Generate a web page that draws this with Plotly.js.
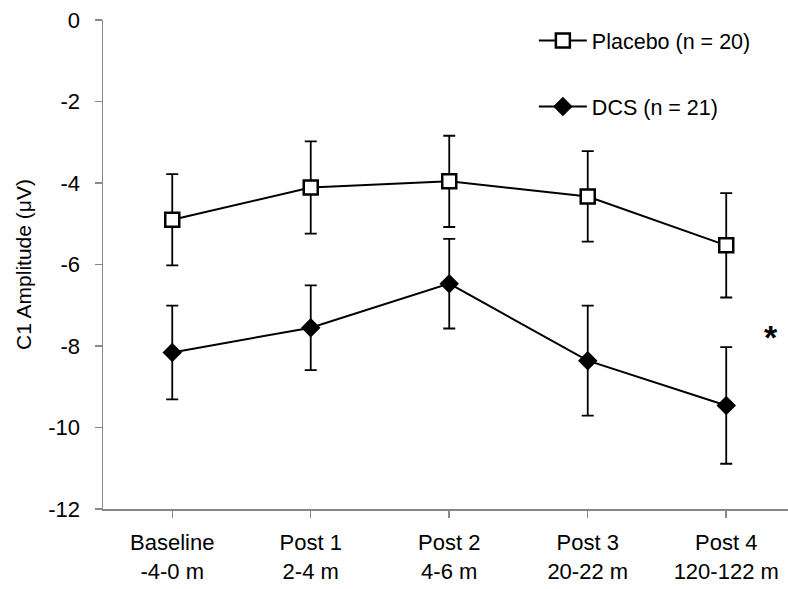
<!DOCTYPE html>
<html>
<head>
<meta charset="utf-8">
<script src="https://cdn.plot.ly/plotly-3.0.1.min.js"></script>
<style>html,body{margin:0;padding:0;background:#fff;}#chart{width:788px;height:589px;}</style>
</head>
<body>
<div id="chart"></div>
<script>
var categories = ["Baseline<br>-4-0 m", "Post 1<br>2-4 m", "Post 2<br>4-6 m", "Post 3<br>20-22 m", "Post 4<br>120-122 m"];
var placeboMean = [-4.90, -4.11, -3.96, -4.33, -5.53];
var placeboErr = [1.12, 1.13, 1.12, 1.11, 1.28];
var dcsMean = [-8.16, -7.55, -6.47, -8.36, -9.46];
var dcsErr = [1.15, 1.04, 1.10, 1.35, 1.43];
var yTicks = [0, -2, -4, -6, -8, -10, -12];
var placeboName = "Placebo (n = 20)";
var dcsName = "DCS (n = 21)";

var xIdx = categories.map(function(_, i){ return i; });
var font = "Liberation Sans, Arial, sans-serif";

var traces = [
  {
    x: xIdx, y: placeboMean, name: placeboName, legendgroup: "a",
    type: "scatter", mode: "lines+markers",
    line: {color: "#000", width: 2},
    marker: {symbol: "square", size: 14, color: "#fff", line: {color: "#000", width: 2.5}},
    error_y: {type: "data", array: placeboErr, visible: true, color: "#000", thickness: 1.8, width: 6}
  },
  {
    x: xIdx, y: dcsMean, name: dcsName, legendgroup: "b",
    type: "scatter", mode: "lines+markers",
    line: {color: "#000", width: 2},
    marker: {symbol: "diamond", size: 15, color: "#000", line: {color: "#000", width: 0}},
    error_y: {type: "data", array: dcsErr, visible: true, color: "#000", thickness: 1.8, width: 6}
  }
];

var layout = {
  width: 788, height: 589,
  margin: {l: 103, r: 0, t: 20, b: 80, pad: 0},
  paper_bgcolor: "#fff", plot_bgcolor: "#fff",
  font: {family: font, size: 21, color: "#000"},
  showlegend: true,
  legend: {
    x: 0.629, y: 1.0, xanchor: "left", yanchor: "top",
    font: {family: font, size: 21.5, color: "#000"},
    tracegroupgap: 35, traceorder: "grouped",
    bgcolor: "rgba(0,0,0,0)", itemwidth: 48
  },
  xaxis: {
    range: [-0.5, 4.446],
    tickmode: "array", tickvals: xIdx, ticktext: categories,
    tickson: "boundaries",
    ticks: "outside", ticklen: 7, tickcolor: "#888", tickwidth: 1.5,
    ticklabelstandoff: 6,
    showline: true, linecolor: "#888", linewidth: 1.5,
    showgrid: false, zeroline: false,
    tickfont: {family: font, size: 22, color: "#000"},
    fixedrange: true
  },
  yaxis: {
    range: [-12, 0],
    tickmode: "array", tickvals: yTicks, ticktext: yTicks.map(String),
    ticks: "outside", ticklen: 7, tickcolor: "#888", tickwidth: 1.5,
    ticklabelstandoff: 10,
    showline: true, linecolor: "#888", linewidth: 1.5,
    showgrid: false, zeroline: false,
    tickfont: {family: font, size: 22, color: "#000"},
    title: {text: "C1 Amplitude (μV)", font: {family: font, size: 21, color: "#000"}, standoff: 11},
    fixedrange: true
  },
  annotations: [
    {x: 4.32, y: -7.67, xref: "x", yref: "y", text: "<b>*</b>", showarrow: false,
     font: {family: font, size: 34, color: "#000"}, xanchor: "center", yanchor: "middle", yshift: -4}
  ]
};

Plotly.newPlot("chart", traces, layout, {displayModeBar: false, staticPlot: true});
</script>
</body>
</html>
